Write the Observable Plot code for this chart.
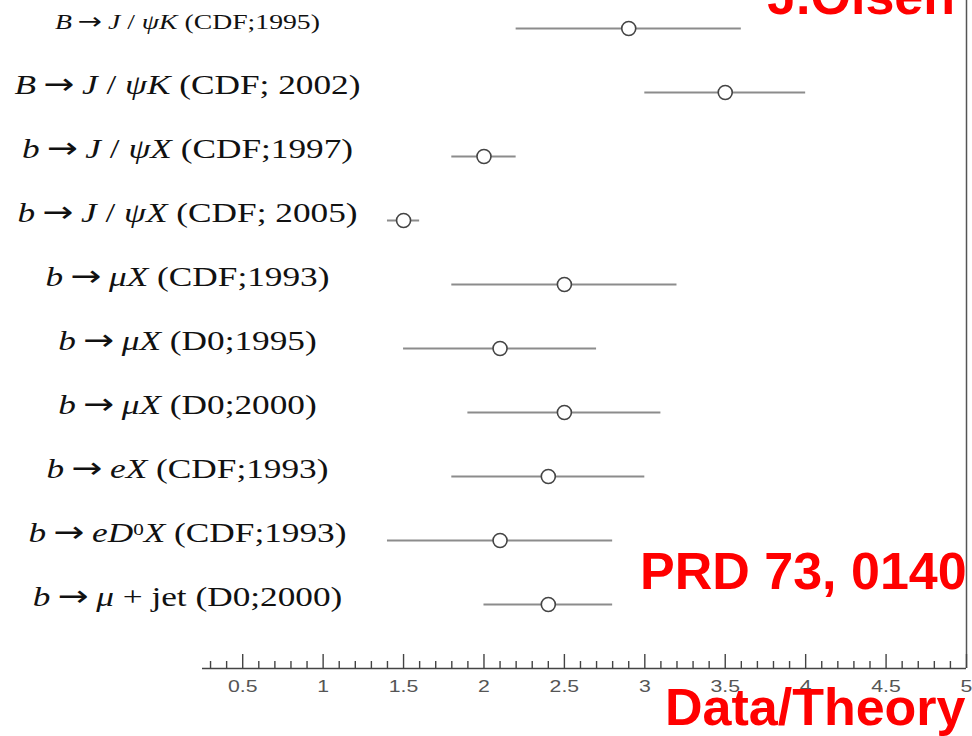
<!DOCTYPE html>
<html><head><meta charset="utf-8">
<script src="https://cdn.jsdelivr.net/npm/d3@7"></script>
<script src="https://cdn.jsdelivr.net/npm/@observablehq/plot@0.6"></script>
<style>
body{margin:0;background:#fff;}
#wrap{position:relative;width:972px;height:736px;overflow:hidden;background:#fff;}
#overlay{position:absolute;left:0;top:0;pointer-events:none;}
</style></head><body><div id="wrap"></div>
<script>
// Measurements (markup: *...* italic, ^x superscript)
const labels = [
  "*B* → *J* / *ψK* (CDF;1995)",
  "*B* → *J* / *ψK* (CDF; 2002)",
  "*b* → *J* / *ψX* (CDF;1997)",
  "*b* → *J* / *ψX* (CDF; 2005)",
  "*b* → *μX* (CDF;1993)",
  "*b* → *μX* (D0;1995)",
  "*b* → *μX* (D0;2000)",
  "*b* → *eX* (CDF;1993)",
  "*b* → *eD*^0*X* (CDF;1993)",
  "*b* → *μ* + jet (D0;2000)"
];
const values = [2.9, 3.5, 2.0, 1.5, 2.5, 2.1, 2.5, 2.4, 2.1, 2.4];
const lows   = [2.2, 3.0, 1.8, 1.4, 1.8, 1.5, 1.9, 1.8, 1.4, 2.0];
const highs  = [3.6, 4.0, 2.2, 1.6, 3.2, 2.7, 3.1, 3.0, 2.8, 2.8];
const majorTicks = [0.5, 1, 1.5, 2, 2.5, 3, 3.5, 4, 4.5, 5];
const minorTicks = d3.range(3, 51).map(k => k / 10).filter(v => !majorTicks.includes(v));
const annotations = ["J.Olsen", "PRD 73, 0140", "Data/Theory"];

const rows = labels.map((label, i) => ({i, label, value: values[i], low: lows[i], high: highs[i]}));

const chart = Plot.plot({
  width: 972, height: 736,
  marginTop: 0, marginBottom: 68, marginLeft: 202, marginRight: 6,
  x: {domain: [0.25, 5]},
  y: {domain: [0, 10], range: [28, 668]},
  style: {background: "white", fontFamily: "Liberation Sans", overflow: "visible"},
  marks: [
    Plot.ruleX([5], {stroke: "#555", strokeWidth: 1.5}),
    Plot.ruleY([10], {x1: 0.25, x2: 5, stroke: "#444", strokeWidth: 1.6}),
    Plot.ruleX(majorTicks, {insetTop: 668 - 14, stroke: "#444", strokeWidth: 1.4}),
    Plot.ruleX(minorTicks, {insetTop: 668 - 7, stroke: "#444", strokeWidth: 1.4}),
    Plot.axisX({ticks: majorTicks, tickFormat: d => `${d}`, tickSize: 0, tickPadding: 11, fontSize: 17, fill: "#555", label: null}),
    Plot.axisY({ticks: d3.range(labels.length), tickFormat: i => labels[i], tickSize: 0, tickPadding: 15,
      textAnchor: "middle", dy: -7, fontSize: 28, fill: "#111", label: null}),
    Plot.ruleY(rows, {y: "i", x1: "low", x2: "high", stroke: "#8c8c8c", strokeWidth: 2.2}),
    Plot.dot(rows, {x: "value", y: "i", r: 7, fill: "white", stroke: "#444", strokeWidth: 1.6})
  ]
});
const wrap = document.getElementById("wrap");
wrap.appendChild(chart);

const SVGNS = "http://www.w3.org/2000/svg";
function richify(el, markup) {
  const segs = [];
  let italic = false, buf = "";
  const flush = () => { if (buf) segs.push({t: buf, italic, sup: false}); buf = ""; };
  for (let k = 0; k < markup.length; k++) {
    const c = markup[k];
    if (c === "*") { flush(); italic = !italic; }
    else if (c === "^") { flush(); segs.push({t: markup[++k], italic: false, sup: true}); }
    else if (c === "→") { flush(); segs.push({t: "\u2009→\u2009", italic: false, sup: false, arrow: true}); }
    else buf += c;
  }
  flush();
  el.textContent = "";
  let shifted = false;
  for (const s of segs) {
    const ts = document.createElementNS(SVGNS, "tspan");
    ts.textContent = s.t;
    if (s.italic) ts.setAttribute("font-style", "italic");
    if (s.arrow) { ts.setAttribute("font-family", "DejaVu Sans"); ts.setAttribute("font-size", "1.05em"); }
    if (s.sup) { ts.setAttribute("font-size", "0.6em"); ts.setAttribute("dy", "-0.45em"); shifted = true; }
    else if (shifted) { ts.setAttribute("dy", "0.27em"); shifted = false; }
    el.appendChild(ts);
  }
}
function stretch(el, s) {
  const b = el.getBBox();
  const cx = b.x + b.width / 2;
  el.setAttribute("transform", (el.getAttribute("transform") || "") + ` translate(${cx},0) scale(${s},1) translate(${-cx},0)`);
}
const ylab = chart.querySelectorAll('g[aria-label="y-axis tick label"] text');
ylab.forEach((t, idx) => {
  // the arrow carries its own thin spacing
  richify(t, labels[idx].replace(" → ", "→"));
  t.setAttribute("font-family", "Liberation Serif");
  if (idx === 0) t.setAttribute("font-size", 22);
  stretch(t, 1.26);
});
chart.querySelectorAll('g[aria-label="x-axis tick label"] text').forEach(t => stretch(t, 1.25));

// red annotations overlay
const ov = d3.select(wrap).append("svg").attr("id", "overlay").attr("width", 972).attr("height", 736);
const red = {fill: "#ff0000", "font-family": "Liberation Sans", "font-weight": "bold", "font-size": 52};
const pos = [[955, 14, "end"], [640, 589, "start"], [665, 725, "start"]];
annotations.forEach((a, k) => {
  const t = ov.append("text").attr("x", pos[k][0]).attr("y", pos[k][1]).attr("text-anchor", pos[k][2]).text(a);
  for (const [kk, v] of Object.entries(red)) t.attr(kk, v);
});
</script></body></html>
